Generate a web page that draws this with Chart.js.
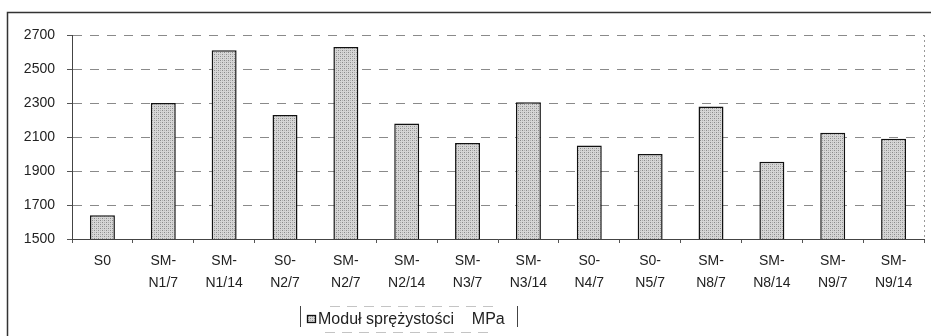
<!DOCTYPE html>
<html lang="pl">
<head>
    <meta charset="UTF-8">
    <title>Moduł sprężystości</title>
    <script src="https://cdn.jsdelivr.net/npm/chart.js"></script>
    <style>
        body {
            margin: 0;
            background-color: white;
        }
        .chart-box {
            position: relative;
            width: 931px;
            height: 336px;
        }
    </style>
</head>
<body>
    <div class="chart-box">
        <canvas id="modulusChart"></canvas>
    </div>

    <script>
        // Sample names (two-line labels under the bars)
        const sampleLabels = [
            'S0', ['SM-', 'N1/7'], ['SM-', 'N1/14'], ['S0-', 'N2/7'], ['SM-', 'N2/7'],
            ['SM-', 'N2/14'], ['SM-', 'N3/7'], ['SM-', 'N3/14'], ['S0-', 'N4/7'], ['S0-', 'N5/7'],
            ['SM-', 'N8/7'], ['SM-', 'N8/14'], ['SM-', 'N9/7'], ['SM-', 'N9/14']
        ];

        // Modulus values, MPa
        const modulusValues = [1640, 2300, 2610, 2230, 2630, 2180, 2065, 2305, 2050, 2000, 2280, 1955, 2125, 2090];

        // Value axis
        const yMin = 1500;
        const yMax = 2700;
        const yStep = 200;

        const seriesName = 'Moduł sprężystości    MPa';
        const fontFamily = '"Liberation Sans", Arial, sans-serif';

        // Stippled grey fill for the bars
        function makeStipple() {
            const tile = document.createElement('canvas');
            tile.width = 4;
            tile.height = 4;
            const t = tile.getContext('2d');
            t.fillStyle = '#d6d6d6';
            t.fillRect(0, 0, 4, 4);
            t.fillStyle = '#8a8a8a';
            t.fillRect(0, 0, 1, 1);
            t.fillRect(2, 2, 1, 1);
            t.fillStyle = '#b0b0b0';
            t.fillRect(2, 0, 1, 1);
            t.fillRect(0, 2, 1, 1);
            return t.createPattern(tile, 'repeat');
        }
        const stipple = makeStipple();

        // Frame lines and the boxed legend under the chart
        const framePlugin = {
            id: 'frame',
            afterDraw(chart) {
                const ctx = chart.ctx;
                ctx.save();
                ctx.strokeStyle = '#333';
                ctx.lineWidth = 1.5;
                ctx.beginPath();
                ctx.moveTo(7.5, 336);
                ctx.lineTo(7.5, 12.5);
                ctx.lineTo(931, 12.5);
                ctx.stroke();

                // right edge of the plot, faint dotted
                const area = chart.chartArea;
                ctx.lineWidth = 1;
                ctx.strokeStyle = '#999';
                ctx.setLineDash([2, 3]);
                ctx.beginPath();
                ctx.moveTo(area.right + 0.5, area.top);
                ctx.lineTo(area.right + 0.5, area.bottom);
                ctx.stroke();
                ctx.setLineDash([]);

                // legend
                const lx = 300, ly = 306, lw = 217, lh = 27;
                ctx.strokeStyle = '#444';
                ctx.beginPath();
                ctx.moveTo(lx + 0.5, ly);
                ctx.lineTo(lx + 0.5, ly + lh - 6);
                ctx.moveTo(lx + lw + 0.5, ly);
                ctx.lineTo(lx + lw + 0.5, ly + lh - 6);
                ctx.stroke();
                ctx.strokeStyle = '#c4c4c4';
                ctx.setLineDash([10, 7]);
                ctx.beginPath();
                ctx.moveTo(lx + 30, ly + 0.5);
                ctx.lineTo(lx + lw - 20, ly + 0.5);
                ctx.moveTo(lx + 25, ly + lh - 0.5);
                ctx.lineTo(lx + lw - 25, ly + lh - 0.5);
                ctx.stroke();
                ctx.setLineDash([]);

                ctx.fillStyle = stipple;
                ctx.fillRect(lx + 7, ly + 9, 8, 7);
                ctx.strokeStyle = '#111';
                ctx.lineWidth = 1.3;
                ctx.strokeRect(lx + 7.5, ly + 9.5, 8, 7);

                ctx.fillStyle = '#222';
                ctx.font = '16px ' + fontFamily;
                ctx.textBaseline = 'middle';
                ctx.fillText(seriesName, lx + 18, ly + 13.5);
                ctx.restore();
            }
        };

        const ctx = document.getElementById('modulusChart').getContext('2d');
        const chart = new Chart(ctx, {
            type: 'bar',
            data: {
                labels: sampleLabels,
                datasets: [{
                    label: seriesName,
                    data: modulusValues,
                    backgroundColor: stipple,
                    borderColor: '#111',
                    borderWidth: 1.5,
                    barPercentage: 0.82,
                    categoryPercentage: 0.5
                }]
            },
            options: {
                responsive: true,
                maintainAspectRatio: false,
                animation: false,
                layout: {
                    padding: { left: 10, top: 35, right: 7, bottom: 37 }
                },
                plugins: {
                    legend: { display: false },
                    tooltip: { enabled: false }
                },
                scales: {
                    x: {
                        grid: {
                            drawOnChartArea: false,
                            drawTicks: true,
                            tickLength: 4,
                            color: '#555'
                        },
                        border: { color: '#444', width: 1 },
                        ticks: {
                            color: '#222',
                            padding: 7,
                            maxRotation: 0,
                            autoSkip: false,
                            font: { family: fontFamily, size: 14, lineHeight: 1.58 }
                        },
                        afterFit(scale) { scale.height = 60; }
                    },
                    y: {
                        min: yMin,
                        max: yMax,
                        grid: {
                            color: '#8a8a8a',
                            tickLength: 5,
                            tickColor: '#555'
                        },
                        border: { color: '#444', width: 1, dash: [9, 8] },
                        ticks: {
                            stepSize: yStep,
                            color: '#222',
                            padding: 12,
                            font: { family: fontFamily, size: 14 },
                            callback: value => String(value)
                        },
                        afterFit(scale) { scale.width = 62; }
                    }
                }
            },
            plugins: [framePlugin]
        });
    </script>
</body>
</html>
